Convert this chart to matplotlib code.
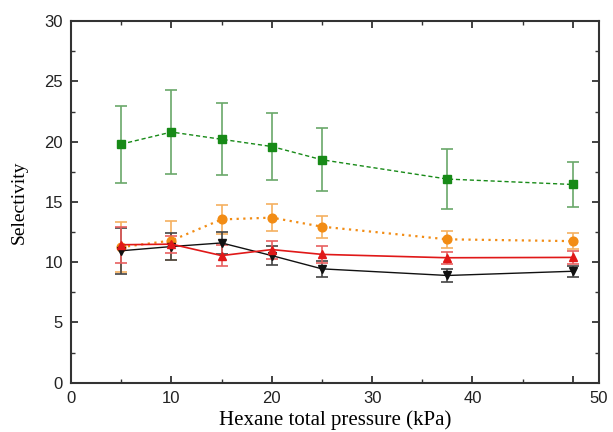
import matplotlib
matplotlib.use("Agg")
from matplotlib import pyplot as plt
from matplotlib.ticker import MultipleLocator
import numpy as np

pressure = [5, 10, 15, 20, 25, 37.5, 50]

green_sel = [19.8, 20.8, 20.2, 19.6, 18.5, 16.9, 16.45]
green_err = [3.2, 3.5, 3.0, 2.8, 2.6, 2.5, 1.9]

orange_sel = [11.25, 11.8, 13.55, 13.7, 12.95, 11.9, 11.75]
orange_err = [2.1, 1.6, 1.2, 1.1, 0.9, 0.7, 0.65]

red_sel = [11.45, 11.5, 10.55, 11.05, 10.65, 10.37, 10.4]
red_err = [1.5, 0.7, 0.85, 0.75, 0.7, 0.5, 0.55]

black_sel = [10.95, 11.3, 11.6, 10.55, 9.45, 8.9, 9.25]
black_err = [1.9, 1.1, 0.9, 0.8, 0.65, 0.5, 0.45]

xtick_vals = [0, 10, 20, 30, 40, 50]

fig = plt.figure(figsize=(6.13, 4.32), dpi=100)
ax = fig.add_axes([0.116, 0.114, 0.861, 0.837])

series = [
    (green_sel, green_err, "#178a17", "#6aa86a", "s", (0, (3, 2)), 1.0),
    (orange_sel, orange_err, "#f28c14", "#f5b060", "o", (0, (1, 2)), 1.6),
    (black_sel, black_err, "#111111", "#444444", "v", "-", 1.0),
    (red_sel, red_err, "#e01818", "#e86060", "^", "-", 1.2),
]

for sel, err, col, ecol, mk, ls, lw in series:
    ax.errorbar(pressure, sel, yerr=err, color=col, ecolor=ecol, marker=mk,
                markersize=6.3, linestyle=ls, linewidth=lw, elinewidth=1.2,
                capsize=4, capthick=1.2)

ax.set_xlim(0, 52.6)
ax.set_ylim(0, 30)
ax.set_xticks(xtick_vals, ["0", "10", "20", "30", "40", ""])
ax.xaxis.set_minor_locator(MultipleLocator(5))
ax.yaxis.set_major_locator(MultipleLocator(5))
ax.yaxis.set_minor_locator(MultipleLocator(2.5))
# the "50" label sits at the right end of the axis in the original
ax.text(52.6, -0.023, "50", transform=ax.get_xaxis_transform(), ha="center",
        va="top", fontsize=12, family="Liberation Sans", color="#222222")

ax.tick_params(which="both", direction="in", top=True, right=True,
               color="#333333", labelcolor="#222222", labelsize=12)
ax.tick_params(which="major", length=5, width=1.3, pad=6)
ax.tick_params(which="minor", length=3, width=1.0)
for lab in ax.get_xticklabels() + ax.get_yticklabels():
    lab.set_family("Liberation Sans")
for sp in ax.spines.values():
    sp.set_color("#333333")
    sp.set_linewidth(1.5)

ax.set_xlabel("Hexane total pressure (kPa)", family="Liberation Serif",
              fontsize=15, labelpad=3)
ax.set_ylabel("Selectivity", family="Liberation Serif", fontsize=14, labelpad=12)

fig.savefig("out.png", dpi=100)
